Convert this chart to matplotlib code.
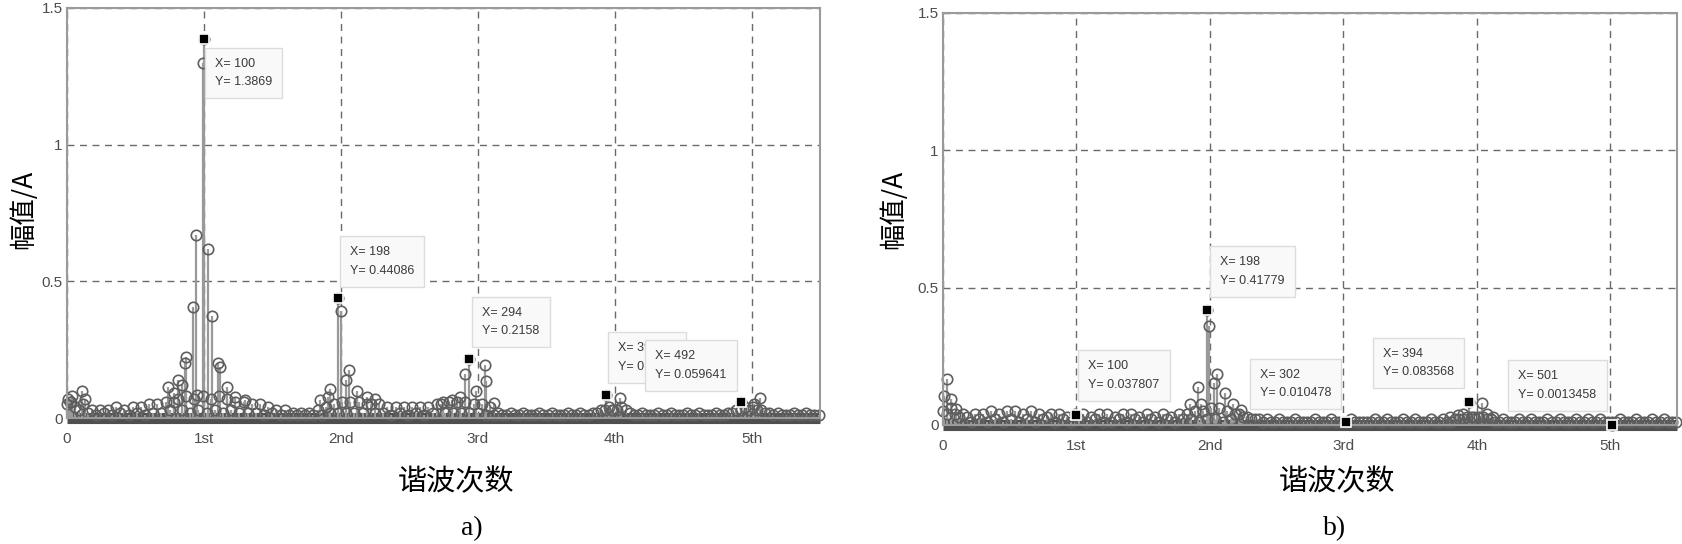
#!/usr/bin/env python3

"""Harmonic spectrum of the current before (a) and after (b) compensation, stem plots with data tips.
"""

import numpy as np
import matplotlib
matplotlib.use("Agg")
import matplotlib.pyplot as plt

plt.rcParams['font.family'] = ['Liberation Sans', 'Noto Sans CJK SC']

# background spectrum, one value every 3 bins (bin 0, 3, 6, ...)
floor_a = [0.05, 0.06, 0.04, 0.03, 0.05, 0.02,
           0.03, 0.01, 0.03, 0.02, 0.03, 0.01, 0.04, 0.02, 0.03, 0.01, 0.04,
           0.02, 0.04, 0.01, 0.05, 0.02, 0.05, 0.02, 0.06, 0.03, 0.06,
           0.07, 0.03, 0.08, 0.02, 0.07, 0.03, 0.08, 0.02, 0.07, 0.03, 0.08,
           0.02, 0.07, 0.03,
           0.06, 0.02, 0.06, 0.02, 0.05, 0.02, 0.05, 0.01, 0.04, 0.02, 0.03,
           0.01, 0.03, 0.01, 0.02, 0.01, 0.02, 0.01, 0.02, 0.01,
           0.03, 0.01, 0.04, 0.02, 0.05, 0.02, 0.06, 0.02, 0.06, 0.02, 0.06,
           0.02, 0.05,
           0.05, 0.02, 0.05, 0.02, 0.04, 0.01, 0.04, 0.02, 0.04, 0.01, 0.04,
           0.02, 0.04, 0.01, 0.04, 0.02, 0.05,
           0.05, 0.02, 0.06, 0.02, 0.06, 0.02, 0.06, 0.02, 0.05, 0.02, 0.05,
           0.01, 0.04, 0.01, 0.02, 0.01,
           0.01, 0.02, 0.01, 0.01, 0.02, 0.01, 0.01, 0.01, 0.02, 0.01, 0.01,
           0.02, 0.01, 0.01, 0.01, 0.02, 0.01, 0.01, 0.02, 0.01, 0.01, 0.02,
           0.02, 0.03, 0.03, 0.04, 0.03, 0.03, 0.04, 0.03, 0.02,
           0.01, 0.01, 0.02, 0.01, 0.01, 0.01, 0.02, 0.01, 0.01, 0.02, 0.01,
           0.01, 0.01, 0.02, 0.01, 0.01, 0.02, 0.01, 0.01, 0.01, 0.02, 0.01,
           0.01, 0.02,
           0.02, 0.03, 0.03, 0.04, 0.03, 0.04, 0.03, 0.03, 0.02, 0.02,
           0.01, 0.02, 0.01, 0.01, 0.01, 0.02, 0.01, 0.01, 0.02, 0.01, 0.01,
           0.01]

floor_b = [0.05, 0.04, 0.06, 0.04, 0.03, 0.04,
           0.03, 0.01, 0.04, 0.02, 0.04, 0.01, 0.05, 0.02, 0.04, 0.01, 0.05,
           0.02, 0.05, 0.01, 0.04, 0.02, 0.05, 0.01, 0.04, 0.02, 0.03,
           0.04, 0.01, 0.04, 0.02, 0.03, 0.01, 0.04, 0.02, 0.04, 0.01, 0.03,
           0.02, 0.04, 0.01,
           0.04, 0.01, 0.03, 0.02, 0.04, 0.01, 0.04, 0.02, 0.03, 0.01, 0.04,
           0.02, 0.03, 0.01, 0.04, 0.02, 0.03, 0.01, 0.04, 0.02,
           0.04, 0.02, 0.05, 0.01, 0.05, 0.02, 0.06, 0.02, 0.06, 0.01, 0.05,
           0.02, 0.04,
           0.04, 0.03, 0.03, 0.02, 0.02, 0.02, 0.01, 0.02, 0.01, 0.01, 0.02,
           0.01, 0.01, 0.01, 0.02, 0.01, 0.01,
           0.01, 0.01, 0.02, 0.01, 0.01, 0.01, 0.02, 0.01, 0.01, 0.01, 0.01,
           0.02, 0.01, 0.01, 0.01, 0.01,
           0.01, 0.02, 0.01, 0.01, 0.02, 0.01, 0.01, 0.01, 0.02, 0.01, 0.01,
           0.02, 0.01, 0.01, 0.01, 0.02, 0.01, 0.01, 0.02, 0.01, 0.01, 0.02,
           0.02, 0.02, 0.03, 0.03, 0.02, 0.03, 0.03, 0.02, 0.02,
           0.01, 0.01, 0.02, 0.01, 0.01, 0.01, 0.02, 0.01, 0.01, 0.02, 0.01,
           0.01, 0.01, 0.02, 0.01, 0.01, 0.02, 0.01, 0.01, 0.01, 0.02, 0.01,
           0.01, 0.02,
           0.01, 0.01, 0.02, 0.01, 0.01, 0.01, 0.01, 0.02, 0.01, 0.01,
           0.01, 0.02, 0.01, 0.01, 0.01, 0.02, 0.01, 0.01, 0.02, 0.01, 0.01,
           0.01]

# prominent spectral lines (bin, amplitude)
peak_a_bin = [1, 2, 4, 11, 13,
              74, 78, 81, 84, 86, 87, 92, 94, 95, 99, 100, 103, 106, 110,
              112, 117, 123, 130,
              185, 191, 192, 198, 200, 204, 206, 212, 219, 225,
              275, 281, 287, 291, 294, 299, 305, 306, 312,
              394, 398, 404,
              492, 502, 506]
peak_a_amp = [0.07, 0.06, 0.08, 0.10, 0.07,
              0.114, 0.09, 0.139, 0.12, 0.20, 0.224, 0.406, 0.67, 0.084,
              1.30, 1.3869, 0.617, 0.373, 0.20, 0.185, 0.114, 0.078, 0.066,
              0.066, 0.078, 0.105, 0.44086, 0.39, 0.14, 0.175, 0.10, 0.078,
              0.07,
              0.06, 0.066, 0.078, 0.16, 0.2158, 0.10, 0.195, 0.135, 0.054,
              0.0836, 0.03, 0.075,
              0.059641, 0.05, 0.074]

peak_b_bin = [1, 3, 6, 10,
              100,
              185, 191, 193, 198, 199, 203, 205, 211, 217, 223,
              302,
              380, 386, 390, 394, 398, 404, 408, 412,
              501]
peak_b_amp = [0.107, 0.167, 0.095, 0.057,
              0.037807,
              0.077, 0.137, 0.077, 0.41779, 0.36, 0.153, 0.186, 0.116, 0.077,
              0.055,
              0.010478,
              0.03, 0.035, 0.04, 0.083568, 0.03, 0.079, 0.04, 0.03,
              0.0013458]

# data tips
tip_a_bin = [100, 198, 294, 394, 492]
tip_a_amp = [1.3869, 0.44086, 0.2158, 0.0836, 0.059641]
tip_a_text = ["X= 100\nY= 1.3869", "X= 198\nY= 0.44086", "X= 294\nY= 0.2158",
              "X= 394\nY= 0.0836", "X= 492\nY= 0.059641"]
tip_b_bin = [100, 198, 302, 394, 501]
tip_b_amp = [0.037807, 0.41779, 0.010478, 0.083568, 0.0013458]
tip_b_text = ["X= 100\nY= 0.037807", "X= 198\nY= 0.41779", "X= 302\nY= 0.010478",
              "X= 394\nY= 0.083568", "X= 501\nY= 0.0013458"]

tick_pos = [0, 100, 200, 300, 400, 500]
tick_labels = ["0", "1st", "2nd", "3rd", "4th", "5th"]
ytick_pos = [0, 0.5, 1, 1.5]
ytick_labels = ["0", "0.5", "1", "1.5"]

fig = plt.figure(figsize=(16.83, 5.44), dpi=100)
ax_a = fig.add_axes([0.0398, 0.2316, 0.4474, 0.7537])
ax_b = fig.add_axes([0.5603, 0.2188, 0.4361, 0.7574])

tip_offsets_a = [(11, -34, 'left'), (12, 36, 'left'), (13, 37, 'left'),
                 (12, 38, 'left'), (-14, 36, 'right')]
tip_offsets_b = [(12, 39, 'left'), (13, 39, 'left'), (-15, 38, 'right'),
                 (-15, 39, 'right'), (-15, 39, 'right')]


def draw_panel(ax, floor, pbin, pamp, tbin, tamp, ttext, offsets):
    fbin = np.arange(len(floor)) * 3
    x = np.concatenate([fbin, pbin])
    y = np.concatenate([floor, pamp])
    # dense low-level band along the zero line
    ax.axhline(0, color='#4f4f4f', lw=8, zorder=1.5, clip_on=False,
               solid_capstyle='butt')
    markerline, stemlines, baseline = ax.stem(x, y, basefmt=' ')
    stemlines.set_color('#999999')
    stemlines.set_linewidth(1.6)
    stemlines.set_clip_on(False)
    markerline.set_markerfacecolor('none')
    markerline.set_markeredgecolor('#5e5e5e')
    markerline.set_markersize(7.5)
    markerline.set_markeredgewidth(1.2)
    markerline.set_clip_on(False)

    for i in range(len(tbin)):
        dx, dy, ha = offsets[i]
        ax.annotate(ttext[i], xy=(tbin[i], tamp[i]), xytext=(dx, dy),
                    textcoords='offset pixels', ha=ha, va='center',
                    multialignment='left',
                    fontsize=9, color='#3a3a3a', linespacing=1.75,
                    bbox=dict(boxstyle='square,pad=0.8', fc='#f9f9f9',
                              ec='#dcdcdc', lw=1), zorder=5 + i * 0.1)
    ax.plot(tbin, tamp, 's', color='black', ms=7, mec='white', mew=1.2,
            zorder=7, clip_on=False)

    ax.set_xlim(0, 550)
    ax.set_ylim(0, 1.5)
    ax.set_xticks(tick_pos)
    ax.set_xticklabels(tick_labels)
    ax.set_yticks(ytick_pos)
    ax.set_yticklabels(ytick_labels)
    ax.tick_params(length=0, labelsize=11, labelcolor='#4d4d4d')
    ax.tick_params(axis='x', pad=10)
    ax.tick_params(axis='y', pad=3)
    ax.grid(True, ls=(0, (5, 4)), color='#6a6a6a', lw=1.0)
    ax.set_axisbelow(True)
    for s in ax.spines.values():
        s.set_color('#9a9a9a')
        s.set_linewidth(1.5)


draw_panel(ax_a, floor_a, peak_a_bin, peak_a_amp, tip_a_bin, tip_a_amp,
           tip_a_text, tip_offsets_a)
draw_panel(ax_b, floor_b, peak_b_bin, peak_b_amp, tip_b_bin, tip_b_amp,
           tip_b_text, tip_offsets_b)

cjk = ['Noto Sans CJK SC', 'DejaVu Sans']
fig.text(23 / 1683, 1 - 209 / 544, "幅值/A", rotation=90, ha='center',
         va='center', fontsize=19, family=cjk)
fig.text(893 / 1683, 1 - 209 / 544, "幅值/A", rotation=90, ha='center',
         va='center', fontsize=19, family=cjk)
fig.text(456 / 1683, 1 - 482 / 544, "谐波次数", ha='center', va='center',
         fontsize=21, family=cjk)
fig.text(1337 / 1683, 1 - 482 / 544, "谐波次数", ha='center', va='center',
         fontsize=21, family=cjk)
fig.text(472 / 1683, 1 - 529 / 544, "a)", ha='center', va='center',
         fontsize=20, family='Liberation Serif')
fig.text(1335 / 1683, 1 - 529 / 544, "b)", ha='center', va='center',
         fontsize=20, family='Liberation Serif')

plt.savefig("out.png", dpi=100)
